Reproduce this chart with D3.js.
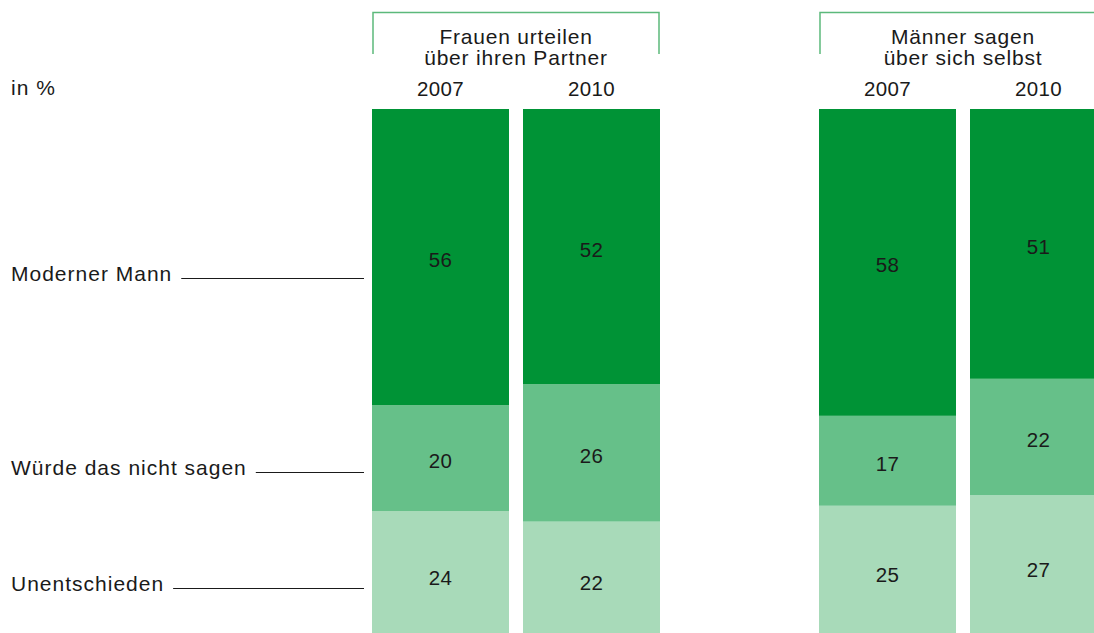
<!DOCTYPE html>
<html>
<head>
<meta charset="utf-8">
<script src="https://cdn.jsdelivr.net/npm/d3@7"></script>
<style>
  html, body { margin: 0; padding: 0; background: #fff; overflow: hidden; }
  text { font-family: "Liberation Sans", Arial, sans-serif; fill: #1a1a1a; }
</style>
</head>
<body>
<div id="chart"></div>
<script>
// data
var groups = ["Frauen urteilen|über ihren Partner", "Männer sagen|über sich selbst"];
var years = ["2007", "2010"];
var categories = ["Moderner Mann", "Würde das nicht sagen", "Unentschieden"];
var modernerMann = [56, 52, 58, 51];
var wuerdeNicht = [20, 26, 17, 22];
var unentschieden = [24, 22, 25, 27];

var colors = {"Moderner Mann": "#009336", "Würde das nicht sagen": "#66c089", "Unentschieden": "#a8dab9"};

var svgWidth = 1094, svgHeight = 633;

var svg = d3.select("#chart").append("svg")
  .attr("width", svgWidth)
  .attr("height", svgHeight);

// build rows: one per bar
var rows = [];
groups.forEach(function(g, gi) {
  years.forEach(function(y, yi) {
    var i = gi * years.length + yi;
    rows.push({
      group: g, year: y,
      "Moderner Mann": modernerMann[i],
      "Würde das nicht sagen": wuerdeNicht[i],
      "Unentschieden": unentschieden[i]
    });
  });
});

// scales
var xGroup = d3.scaleBand()
  .domain(groups)
  .range([372, 1107])
  .paddingInner(0.3557)
  .paddingOuter(0);

var xYear = d3.scaleBand()
  .domain(years)
  .range([0, xGroup.bandwidth()])
  .paddingInner(0.0927)
  .paddingOuter(0);

var yScale = d3.scaleLinear()
  .domain([0, 100])
  .range([638, 109]);

// stack bottom -> top
var stack = d3.stack().keys(categories.slice().reverse());
var series = stack(rows);

var barX = function(d) { return xGroup(d.data.group) + xYear(d.data.year); };

var layers = svg.selectAll("g.layer")
  .data(series)
  .enter().append("g")
  .attr("class", "layer")
  .attr("fill", function(s) { return colors[s.key]; });

layers.selectAll("rect")
  .data(function(s) { return s; })
  .enter().append("rect")
  .attr("x", barX)
  .attr("y", function(d) { return yScale(d[1]); })
  .attr("width", xYear.bandwidth())
  .attr("height", function(d) { return yScale(d[0]) - yScale(d[1]); });

layers.selectAll("text")
  .data(function(s) { return s; })
  .enter().append("text")
  .attr("x", function(d) { return barX(d) + xYear.bandwidth() / 2; })
  .attr("y", function(d) { return (yScale(d[0]) + yScale(d[1])) / 2 + 10; })
  .attr("text-anchor", "middle")
  .attr("font-size", "20.5px")
  .attr("letter-spacing", "0.3px")
  .text(function(d) { return d[1] - d[0]; });

// year labels
svg.selectAll("text.year")
  .data(rows)
  .enter().append("text")
  .attr("class", "year")
  .attr("x", function(d) { return xGroup(d.group) + xYear(d.year) + xYear.bandwidth() / 2; })
  .attr("y", 96)
  .attr("text-anchor", "middle")
  .attr("font-size", "20.5px")
  .attr("letter-spacing", "0.3px")
  .text(function(d) { return d.year; });

// group brackets and titles
var heads = svg.selectAll("g.head")
  .data(groups)
  .enter().append("g")
  .attr("class", "head")
  .attr("transform", function(g) { return "translate(" + xGroup(g) + ",0)"; });

heads.append("path")
  .attr("d", "M1,54V12.5H" + (xGroup.bandwidth() - 1) + "V54")
  .attr("fill", "none")
  .attr("stroke", "#5cb97b")
  .attr("stroke-width", 1.5);

heads.append("rect")
  .attr("x", 10)
  .attr("y", 20)
  .attr("width", xGroup.bandwidth() - 20)
  .attr("height", 50)
  .attr("fill", "#fff");

heads.each(function(g) {
  var lines = g.split("|");
  d3.select(this).selectAll("text.title")
    .data(lines)
    .enter().append("text")
    .attr("class", "title")
    .attr("x", xGroup.bandwidth() / 2)
    .attr("y", function(d, i) { return 44 + i * 21; })
    .attr("text-anchor", "middle")
    .attr("font-size", "21px")
    .attr("letter-spacing", "0.8px")
    .text(function(d) { return d; });
});

// unit label
svg.append("text")
  .attr("x", 11)
  .attr("y", 95)
  .attr("font-size", "21px")
  .attr("letter-spacing", "1px")
  .text("in %");

// category labels with leader lines
var labelY = [281, 475, 591];
var lineEnd = xGroup(groups[0]) - 8;

var labels = svg.selectAll("g.catlabel")
  .data(categories)
  .enter().append("g")
  .attr("class", "catlabel");

labels.append("text")
  .attr("x", 11)
  .attr("y", function(d, i) { return labelY[i]; })
  .attr("font-size", "21px")
  .attr("letter-spacing", "1px")
  .text(function(d) { return d; });

labels.append("line")
  .attr("x1", function(d, i) {
    return 11 + this.parentNode.querySelector("text").getComputedTextLength() + 9;
  })
  .attr("x2", lineEnd)
  .attr("y1", function(d, i) { return labelY[i] - 2.5; })
  .attr("y2", function(d, i) { return labelY[i] - 2.5; })
  .attr("stroke", "#1a1a1a")
  .attr("stroke-width", 1.2);
</script>
</body>
</html>
